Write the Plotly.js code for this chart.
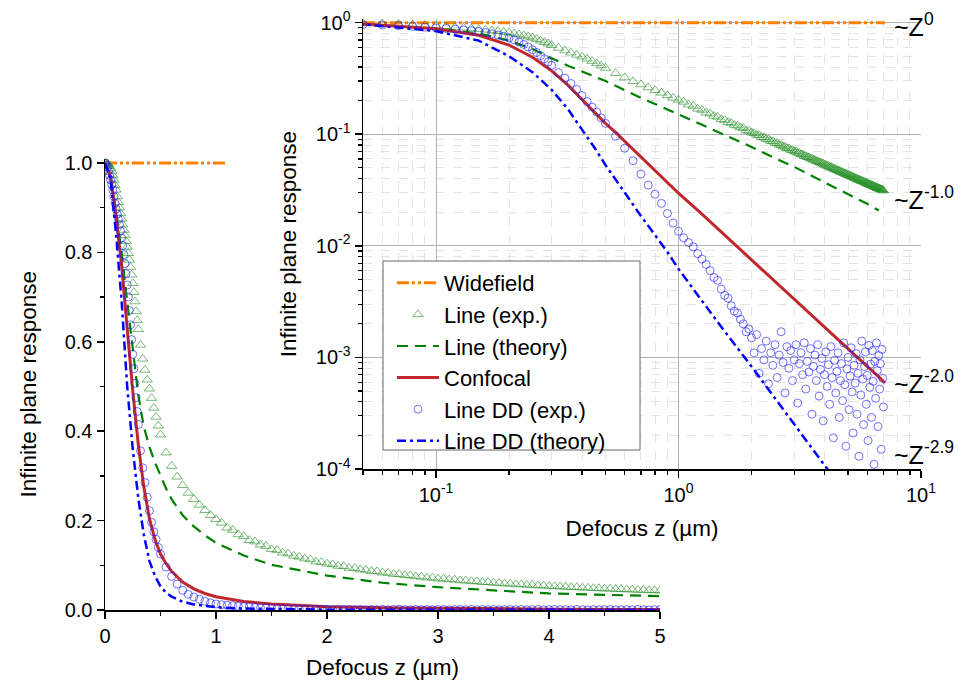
<!DOCTYPE html>
<html><head><meta charset="utf-8">
<script src="https://cdn.plot.ly/plotly-3.0.1.min.js"></script>
<style>html,body{margin:0;padding:0;background:#fff}#chart{width:963px;height:684px}</style>
</head><body><div id="chart"></div>
<script>
// ---------- data ----------
const zExp = [0,0.01,0.02,0.03,0.04,0.05,0.06,0.07,0.08,0.09,0.1,0.11,0.12,0.13,0.14,0.15,0.16,0.17,0.18,0.19,0.2,0.21,0.22,0.23,0.24,0.25,0.26,0.27,0.28,0.29,0.3,
0.32,0.34,0.36,0.38,0.4,0.42,0.44,0.46,0.48,0.5,
0.55,0.6,0.65,0.7,0.75,0.8,0.85,0.9,0.95,1.0,
1.05,1.1,1.15,1.2,1.25,1.3,1.35,1.4,1.45,1.5,1.55,1.6,1.65,1.7,1.75,1.8,1.85,1.9,1.95,2.0,
2.05,2.1,2.15,2.2,2.25,2.3,2.35,2.4,2.45,2.5,2.55,2.6,2.65,2.7,2.75,2.8,2.85,2.9,2.95,3.0,
3.05,3.1,3.15,3.2,3.25,3.3,3.35,3.4,3.45,3.5,3.55,3.6,3.65,3.7,3.75,3.8,3.85,3.9,3.95,4.0,
4.05,4.1,4.15,4.2,4.25,4.3,4.35,4.4,4.45,4.5,4.55,4.6,4.65,4.7,4.75,4.8,4.85,4.9,4.95,5.0,
5.05,5.1,5.15,5.2,5.25,5.3,5.35,5.4,5.45,5.5,5.55,5.6,5.65,5.7,5.75,5.8,5.85,5.9,5.95,6.0,
6.05,6.1,6.15,6.2,6.25,6.3,6.35,6.4,6.45,6.5,6.55,6.6,6.65,6.7,6.75,6.8,6.85,6.9,6.95,7.0];

const lineExp = [1.0,1.0,0.999,0.997,0.993,0.988,0.982,0.972,0.962,0.95,0.94,0.925,0.912,0.9,0.887,0.875,0.862,0.85,0.838,0.825,0.812,0.798,0.783,0.767,0.75,0.731,0.711,0.69,0.668,0.648,0.628,
0.593,0.562,0.537,0.515,0.495,0.474,0.452,0.432,0.412,0.392,
0.352,0.322,0.298,0.279,0.262,0.248,0.235,0.223,0.212,0.203,
0.195,0.184,0.179,0.169,0.165,0.156,0.153,0.146,0.143,0.136,0.134,0.128,0.126,0.121,0.119,0.115,0.113,0.108,0.107,0.1035,
0.102,0.0985,0.0978,0.094,0.0935,0.0905,0.0898,0.0868,0.0862,0.0835,0.083,0.0804,0.0799,0.0776,0.0772,0.0749,0.0746,0.0724,0.0722,0.0702,
0.0699,0.068,0.0678,0.066,0.0657,0.064,0.0638,0.0622,0.062,0.0606,0.0603,0.059,0.0588,0.0574,0.0572,0.056,0.0558,0.0546,0.0544,0.0534,
0.0531,0.0521,0.0519,0.0509,0.0507,0.0498,0.0495,0.0487,0.0485,0.0476,0.0475,0.0467,0.0465,0.0457,0.0456,0.0448,0.0447,0.0439,0.0438,0.0431,
0.043,0.0423,0.0422,0.0415,0.0414,0.0408,0.0406,0.04,0.0399,0.0393,0.0392,0.0387,0.0385,0.038,0.0379,0.0374,0.0373,0.0368,0.0367,0.0362,
0.0361,0.0356,0.0355,0.0351,0.035,0.0346,0.0345,0.034,0.0339,0.0335,0.0334,0.033,0.0329,0.0326,0.0325,0.0321,0.032,0.0317,0.0316,0.0312];

const lineDDExp = [1.0,0.995,0.99,0.982,0.972,0.962,0.952,0.94,0.925,0.91,0.897,0.886,0.875,0.862,0.848,0.832,0.815,0.795,0.775,0.752,0.727,0.7,0.67,0.638,0.605,0.572,0.54,0.507,0.475,0.444,0.415,
0.356,0.318,0.285,0.252,0.222,0.196,0.175,0.158,0.14,0.125,
0.096,0.075,0.058,0.044,0.035,0.029,0.024,0.0195,0.016,0.0135,
0.0118,0.0107,0.0098,0.0085,0.0076,0.0068,0.006,0.0052,0.0049,0.0041,0.0036,0.0034,0.0029,0.0026,0.0025,0.0022,0.002,0.0017,0.0018,0.0015,
0.0011,0.0016,0.00072,0.0012,0.00095,0.0014,0.00058,0.0011,0.00085,0.0013,0.00066,0.00105,0.0017,0.0009,0.00048,0.00125,0.0008,0.00115,0.00062,0.00095,
0.0013,0.00039,0.00088,0.0011,0.0007,0.00135,0.00052,0.00092,0.00074,0.0012,0.00031,0.00083,0.00105,0.00062,0.0013,0.00045,0.00078,0.00098,0.00027,0.0007,
0.00112,0.00055,0.00086,0.00038,0.00125,0.00066,0.00019,0.00094,0.00048,0.00075,0.0011,0.00029,0.00062,0.00088,0.00041,0.00135,0.00057,0.00016,0.00079,0.001,
0.00034,0.00068,0.00122,0.00049,0.00021,0.00085,0.00059,0.00108,0.00031,0.00072,0.00013,0.00095,0.00046,0.0014,0.00064,0.00025,0.00083,0.00112,0.00038,0.00069,
0.00018,0.00128,0.00054,0.00087,0.00029,0.00115,0.00061,0.00011,0.00092,0.00043,0.00135,0.00076,0.00024,0.00104,0.00052,0.00088,0.00015,0.00118,0.00065,0.00036];

const zTheory = [0,0.05,0.1,0.15,0.2,0.25,0.3,0.35,0.4,0.45,0.5,0.55,0.6,0.7,0.8,0.9,1.0,1.25,1.5,2,2.5,3,4,5,6,6.7,7.1];
const lineTheory = [1,0.97,0.89,0.80,0.69,0.58,0.48,0.41,0.365,0.33,0.30,0.272,0.248,0.212,0.187,0.167,0.150,0.122,0.101,0.077,0.061,0.051,0.037,0.029,0.0238,0.0207,null];
const confocal = [1,0.97,0.88,0.77,0.63,0.49,0.37,0.275,0.205,0.158,0.125,0.104,0.0865,0.0626,0.0473,0.0369,0.0296,0.0192,0.0133,0.0075,0.0048,0.00333,0.00187,0.0012,0.00083,0.00067,0.00059];
const lineDDTheory = [1,0.965,0.84,0.69,0.50,0.36,0.25,0.168,0.11,0.076,0.053,0.039,0.030,0.0185,0.0125,0.0088,0.0062,0.0032,0.00188,0.00083,0.00043,0.00025,0.000108,0.000056,0.000033,0.000024,0.00002];

const zWideMain = [0, 1.1];
const zWideInset = [0.05, 7.1];
const wideVals = [1, 1];

const insetXTickVals = [0.1, 1, 10];
const insetXTickText = ['10<sup>-1</sup>', '10<sup>0</sup>', '10<sup>1</sup>'];
const insetXMinor = [0.05,0.06,0.07,0.08,0.09,0.2,0.3,0.4,0.5,0.6,0.7,0.8,0.9,2,3,4,5,6,7,8,9];
const insetYTickVals = [0.0001, 0.001, 0.01, 0.1, 1];
const insetYTickText = ['10<sup>-4</sup>', '10<sup>-3</sup>', '10<sup>-2</sup>', '10<sup>-1</sup>', '10<sup>0</sup>'];
const insetYMinor = [0.0002,0.0003,0.0004,0.0005,0.0006,0.0007,0.0008,0.0009,0.002,0.003,0.004,0.005,0.006,0.007,0.008,0.009,0.02,0.03,0.04,0.05,0.06,0.07,0.08,0.09,0.2,0.3,0.4,0.5,0.6,0.7,0.8,0.9];

const names = ['Widefield', 'Line (exp.)', 'Line (theory)', 'Confocal', 'Line DD (exp.)', 'Line DD (theory)'];
const slopeLabels = ['~Z<sup>0</sup>', '~Z<sup>-1.0</sup>', '~Z<sup>-2.0</sup>', '~Z<sup>-2.9</sup>'];

// ---------- styles ----------
const ORANGE = '#ff8000', GREEN = '#008000', RED = '#c0282d', BLUE = '#0000ff';
const styles = {
  wide: {color: ORANGE, width: 3, dash: '12px,3px,3px,3px,3px,3px'},
  theory: {color: GREEN, width: 2.2, dash: '11px,7px'},
  conf: {color: RED, width: 3},
  dd: {color: BLUE, width: 2.5, dash: '9px,4px,3px,4px'}
};
const triMarker = {symbol: 'triangle-up-open', size: 9, color: 'rgba(30,140,30,0.6)', line: {width: 1}};
const cirMarker = {symbol: 'circle-open', size: 8, color: 'rgba(20,20,255,0.6)', line: {width: 1}};

function series(xa, ya, leg) {
  return [
    {x: xa === 'x' ? zWideMain : zWideInset, y: wideVals, mode: 'lines', line: styles.wide, name: names[0], xaxis: xa, yaxis: ya, showlegend: leg},
    {x: zExp, y: lineExp, mode: 'markers', marker: triMarker, name: names[1], xaxis: xa, yaxis: ya, showlegend: leg},
    {x: zTheory, y: lineTheory, mode: 'lines', line: styles.theory, name: names[2], xaxis: xa, yaxis: ya, showlegend: leg},
    {x: zTheory, y: confocal, mode: 'lines', line: styles.conf, name: names[3], xaxis: xa, yaxis: ya, showlegend: leg},
    {x: zExp, y: lineDDExp, mode: 'markers', marker: cirMarker, name: names[4], xaxis: xa, yaxis: ya, showlegend: leg},
    {x: zTheory, y: lineDDTheory, mode: 'lines', line: styles.dd, name: names[5], xaxis: xa, yaxis: ya, showlegend: leg}
  ];
}

const data = series('x', 'y', false).concat(series('x2', 'y2', true));

const W = 963, H = 684;
const px = v => v / W, py = v => (H - v) / H;
const FONT = 'Liberation Sans, Arial, sans-serif';

const axisCommon = {showline: true, linecolor: '#000', linewidth: 1.5, ticks: 'outside', tickcolor: '#000', tickwidth: 1.5, zeroline: false, tickfont: {family: FONT, size: 20, color: '#000'}};

const layout = {
  width: W, height: H,
  margin: {l: 0, r: 0, t: 0, b: 0},
  paper_bgcolor: '#fff', plot_bgcolor: 'rgba(0,0,0,0)',
  font: {family: FONT, color: '#000', size: 20},
  xaxis: Object.assign({}, axisCommon, {
    domain: [px(105), px(660)], range: [0, 5], anchor: 'y', tick0: 0, dtick: 1, ticklen: 7, showgrid: false,
    minor: {dtick: 0.5, ticks: 'outside', ticklen: 4, tickwidth: 1.5, tickcolor: '#000'},
    title: {text: 'Defocus z (µm)', font: {family: FONT, size: 22.5}, standoff: 13}
  }),
  yaxis: Object.assign({}, axisCommon, {
    domain: [py(610), py(158.5)], range: [0, 1.01], anchor: 'x', tick0: 0, dtick: 0.2, tickformat: '.1f', ticklen: 7, showgrid: false,
    minor: {dtick: 0.1, ticks: 'outside', ticklen: 4, tickwidth: 1.5, tickcolor: '#000'},
    title: {text: 'Infinite plane response', font: {family: FONT, size: 22.5}, standoff: 22}
  }),
  xaxis2: Object.assign({}, axisCommon, {
    type: 'log', domain: [px(363), px(921)], range: [Math.log10(0.05), 1], anchor: 'y2',
    tickmode: 'array', tickvals: insetXTickVals, ticktext: insetXTickText, ticklen: 7,
    showgrid: true, gridcolor: '#b4b4b4', gridwidth: 1,
    minor: {tickmode: 'array', tickvals: insetXMinor, ticks: 'outside', ticklen: 4, tickwidth: 1.2, tickcolor: '#000', showgrid: true, gridcolor: '#e4e4e4', griddash: 'dash', gridwidth: 1},
    title: {text: 'Defocus z (µm)', font: {family: FONT, size: 22.5}, standoff: 15}
  }),
  yaxis2: Object.assign({}, axisCommon, {
    type: 'log', domain: [py(469), py(19.3)], range: [-4, 0.03], anchor: 'x2',
    tickmode: 'array', tickvals: insetYTickVals, ticktext: insetYTickText, ticklen: 7,
    showgrid: true, gridcolor: '#b4b4b4', gridwidth: 1,
    minor: {tickmode: 'array', tickvals: insetYMinor, ticks: 'outside', ticklen: 4, tickwidth: 1.2, tickcolor: '#000', showgrid: true, gridcolor: '#e4e4e4', griddash: 'dash', gridwidth: 1},
    title: {text: 'Infinite plane response', font: {family: FONT, size: 22.5}, standoff: 13}
  }),
  shapes: [
    {type: 'rect', xref: 'paper', yref: 'paper', x0: px(383), x1: px(640), y0: py(450), y1: py(261),
     fillcolor: '#fff', line: {color: '#666', width: 1}, layer: 'above'}
  ],
  legend: {
    x: px(392), y: py(262), xanchor: 'left', yanchor: 'top',
    bgcolor: 'rgba(0,0,0,0)', borderwidth: 0, itemwidth: 42,
    font: {size: 22, family: FONT, color: '#000'}, tracegroupgap: 0
  },
  annotations: [
    {text: slopeLabels[0], x: px(892), y: py(25), xref: 'paper', yref: 'paper', xanchor: 'left', yanchor: 'middle', showarrow: false, font: {family: FONT, size: 25}},
    {text: slopeLabels[1], x: px(892), y: py(198), xref: 'paper', yref: 'paper', xanchor: 'left', yanchor: 'middle', showarrow: false, font: {family: FONT, size: 25}},
    {text: slopeLabels[2], x: px(892), y: py(382), xref: 'paper', yref: 'paper', xanchor: 'left', yanchor: 'middle', showarrow: false, font: {family: FONT, size: 25}},
    {text: slopeLabels[3], x: px(892), y: py(453), xref: 'paper', yref: 'paper', xanchor: 'left', yanchor: 'middle', showarrow: false, font: {family: FONT, size: 25}}
  ],
  showlegend: true
};

Plotly.newPlot('chart', data, layout, {displayModeBar: false, staticPlot: true});
</script>
</body></html>
